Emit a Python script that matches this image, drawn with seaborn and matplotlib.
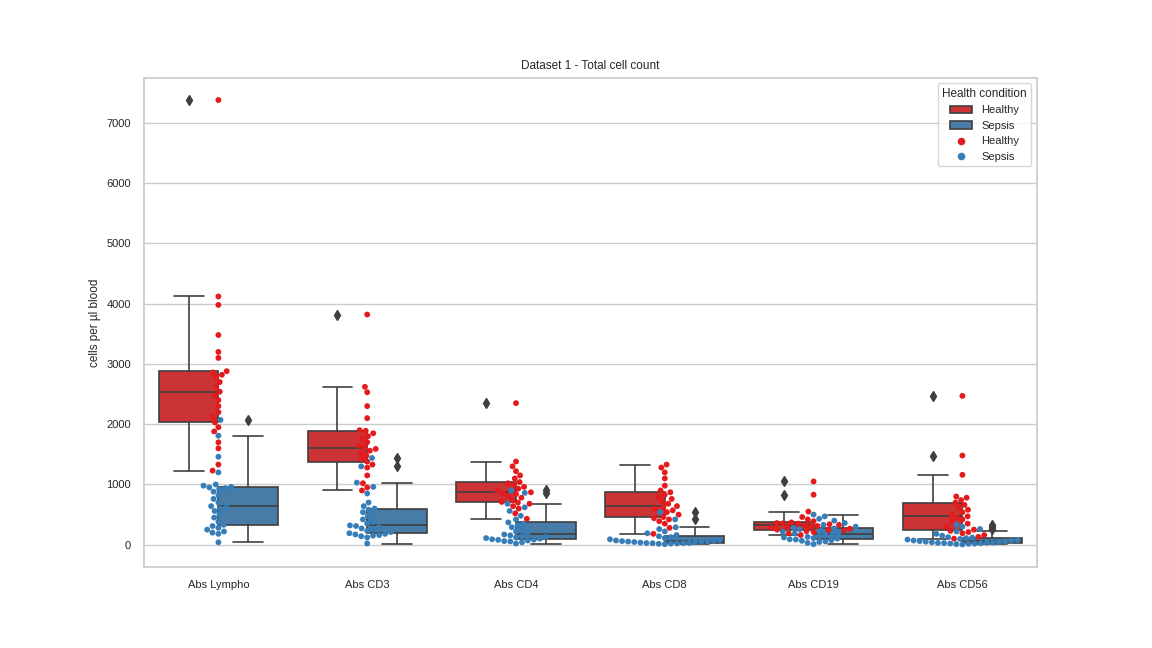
import pandas as pd
import matplotlib
matplotlib.use("Agg")
import matplotlib.pyplot as plt
import seaborn as sns

markers = ["Abs Lympho", "Abs CD3", "Abs CD4", "Abs CD8", "Abs CD19", "Abs CD56"]

healthy_lympho = [1230, 1330, 1600, 1700, 1880, 1950, 2030, 2120, 2200, 2300, 2400, 2480, 2540,
                  2620, 2700, 2780, 2820, 2860, 2880, 3100, 3200, 3480, 3980, 4120, 7380]
sepsis_lympho = [40, 180, 200, 220, 250, 280, 310, 330, 380, 450, 500, 560, 600, 620, 640, 700,
                 760, 820, 880, 920, 940, 950, 960, 980, 1000, 1200, 1460, 1810, 2070]
healthy_cd3 = [900, 950, 1020, 1150, 1280, 1330, 1380, 1420, 1480, 1520, 1560, 1590, 1610, 1650,
               1700, 1760, 1800, 1850, 1890, 1900, 2100, 2300, 2530, 2620, 3820]
sepsis_cd3 = [20, 120, 140, 150, 160, 170, 180, 190, 210, 230, 250, 270, 290, 310, 320, 350, 380,
              420, 480, 540, 580, 600, 640, 700, 850, 960, 1030, 1300, 1440]
healthy_cd4 = [430, 520, 600, 640, 680, 700, 710, 740, 780, 810, 840, 860, 870, 900, 930, 960,
               1000, 1020, 1040, 1100, 1150, 1220, 1300, 1380, 2350]
sepsis_cd4 = [20, 40, 55, 60, 70, 80, 85, 90, 100, 110, 120, 130, 140, 155, 170, 190, 220, 250,
              290, 320, 350, 370, 420, 480, 560, 620, 680, 860, 900]
healthy_cd8 = [180, 280, 350, 390, 420, 440, 460, 500, 540, 570, 600, 620, 640, 680, 720, 760,
               790, 830, 870, 900, 980, 1100, 1200, 1280, 1330]
sepsis_cd8 = [10, 15, 20, 22, 25, 27, 28, 30, 35, 40, 45, 50, 52, 55, 60, 65, 70, 80, 90, 110,
              125, 140, 160, 190, 220, 260, 290, 420, 540]
healthy_cd19 = [160, 190, 210, 225, 235, 245, 250, 265, 280, 290, 300, 310, 320, 330, 340, 350,
                355, 360, 370, 390, 420, 460, 550, 830, 1050]
sepsis_cd19 = [10, 30, 45, 55, 65, 75, 85, 90, 100, 110, 120, 130, 145, 160, 170, 185, 200, 215,
               235, 255, 270, 280, 300, 330, 360, 400, 430, 470, 500]
healthy_cd56 = [100, 130, 160, 190, 210, 230, 250, 300, 350, 390, 420, 450, 470, 500, 540, 580,
                620, 660, 700, 740, 780, 800, 1160, 1480, 2470]
sepsis_cd56 = [5, 10, 15, 18, 20, 24, 27, 30, 33, 36, 40, 45, 50, 55, 60, 65, 70, 78, 85, 95,
               110, 118, 125, 150, 180, 220, 260, 300, 330]

healthy = [healthy_lympho, healthy_cd3, healthy_cd4, healthy_cd8, healthy_cd19, healthy_cd56]
sepsis = [sepsis_lympho, sepsis_cd3, sepsis_cd4, sepsis_cd8, sepsis_cd19, sepsis_cd56]

rows = []
for m, h, s in zip(markers, healthy, sepsis):
    rows += [(m, "Healthy", v) for v in h]
    rows += [(m, "Sepsis", v) for v in s]
df = pd.DataFrame(rows, columns=["marker", "Health condition", "value"])

sns.set_theme(style="whitegrid")
plt.rcParams["font.family"] = ["Liberation Sans", "DejaVu Sans"]
fig, ax = plt.subplots(figsize=(11.52, 6.48), dpi=100)
fig.subplots_adjust(left=0.125, right=0.9, top=0.88, bottom=0.125)
sns.boxplot(data=df, x="marker", y="value", hue="Health condition", palette="Set1",
            saturation=0.75, flierprops=dict(marker="d", markerfacecolor="#3f3f3f",
                                             markeredgecolor="#3f3f3f", markersize=5),
            linecolor="#3f3f3f", linewidth=1.2, ax=ax)
sns.swarmplot(data=df, x="marker", y="value", hue="Health condition", palette="Set1",
              size=4.2, dodge=False, ax=ax, warn_thresh=1)

ax.set_title("Dataset 1 - Total cell count", fontsize=8.5)
ax.set_xlabel("")
ax.set_ylabel("cells per µl blood", fontsize=8.5)
ax.tick_params(labelsize=8)
ax.set_ylim(-370, 7750)
ax.legend(title="Health condition", loc="upper right", fontsize=8, title_fontsize=8.5,
          markerscale=1.3)
fig.savefig("out.png", dpi=100)
